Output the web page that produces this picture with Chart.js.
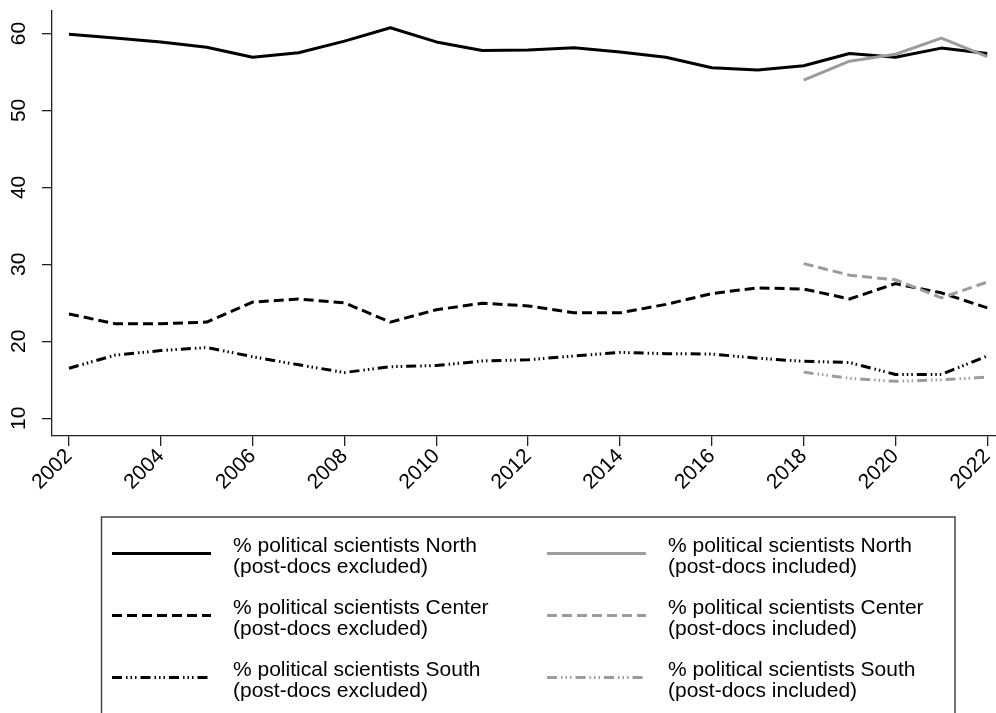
<!DOCTYPE html>
<html>
<head>
<meta charset="utf-8">
<script src="https://cdn.jsdelivr.net/npm/chart.js@4/dist/chart.umd.min.js"></script>
<style>
  html, body { margin: 0; padding: 0; background: #fff; }
  canvas { display: block; }
</style>
</head>
<body>
<canvas id="chart" width="996" height="713"></canvas>
<script>
// Years covered by the full series, and by the series that include post-docs
const years = [2002, 2003, 2004, 2005, 2006, 2007, 2008, 2009, 2010, 2011, 2012,
               2013, 2014, 2015, 2016, 2017, 2018, 2019, 2020, 2021, 2022];
const yearsIncl = [2018, 2019, 2020, 2021, 2022];

// Share of political scientists by area (post-docs excluded)
const northExcl  = [59.9, 59.4, 58.9, 58.2, 56.9, 57.5, 59.0, 60.75, 58.9, 57.8, 57.85,
                    58.15, 57.6, 56.9, 55.55, 55.25, 55.8, 57.4, 56.9, 58.1, 57.4];
const centerExcl = [23.55, 22.3, 22.3, 22.5, 25.1, 25.5, 25.0, 22.5, 24.1, 24.95, 24.6,
                    23.7, 23.7, 24.8, 26.2, 26.95, 26.8, 25.5, 27.5, 26.3, 24.35];
const southExcl  = [16.5, 18.2, 18.8, 19.2, 18.0, 16.95, 15.95, 16.7, 16.85, 17.45, 17.6,
                    18.1, 18.55, 18.4, 18.35, 17.8, 17.4, 17.25, 15.7, 15.7, 18.1];

// Share of political scientists by area (post-docs included)
const northIncl  = [53.95, 56.4, 57.3, 59.4, 57.0];
const centerIncl = [30.1, 28.6, 28.0, 25.65, 27.7];
const southIncl  = [16.0, 15.2, 14.8, 15.0, 15.35];

// Axis ticks
const xTicks = [2002, 2004, 2006, 2008, 2010, 2012, 2014, 2016, 2018, 2020, 2022];
const yTicks = [10, 20, 30, 40, 50, 60];

const FONT = '"Liberation Sans", Arial, Helvetica, sans-serif';
const BLACK = '#000000';
const GREY = '#9c9c9c';
const DASH = [10, 5];
const DASH_DOT = [10, 4, 1.5, 3, 1.5, 3, 1.5, 4];

const pts = (xs, ys) => xs.map((x, i) => ({ x: x, y: ys[i] }));

function series(label, xs, ys, color, dash, order) {
  return {
    label: label,
    data: pts(xs, ys),
    borderColor: color,
    backgroundColor: color,
    borderWidth: 3,
    borderDash: dash,
    borderJoinStyle: 'round',
    pointRadius: 0,
    pointHoverRadius: 0,
    fill: false,
    tension: 0,
    order: order
  };
}

const datasets = [
  series('% political scientists North\n(post-docs excluded)',  years, northExcl,  BLACK, [], 1),
  series('% political scientists Center\n(post-docs excluded)', years, centerExcl, BLACK, DASH, 1),
  series('% political scientists South\n(post-docs excluded)',  years, southExcl,  BLACK, DASH_DOT, 1),
  series('% political scientists North\n(post-docs included)',  yearsIncl, northIncl,  GREY, [], 0),
  series('% political scientists Center\n(post-docs included)', yearsIncl, centerIncl, GREY, DASH, 0),
  series('% political scientists South\n(post-docs included)',  yearsIncl, southIncl,  GREY, DASH_DOT, 0)
];

// Boxed two-column legend below the plot
const boxedLegend = {
  id: 'boxedLegend',
  afterDraw(chart) {
    const ctx = chart.ctx;
    ctx.save();
    ctx.strokeStyle = '#444444';
    ctx.lineWidth = 1.5;
    ctx.setLineDash([]);
    ctx.strokeRect(101.5, 517, 853.5, 230);

    chart.data.datasets.forEach((ds, i) => {
      const col = Math.floor(i / 3);
      const row = i % 3;
      const sx = col ? 547 : 112;
      const sy = 553.5 + row * 62;
      ctx.beginPath();
      ctx.setLineDash(ds.borderDash || []);
      ctx.lineCap = 'butt';
      ctx.strokeStyle = ds.borderColor;
      ctx.lineWidth = 3;
      ctx.moveTo(sx, sy);
      ctx.lineTo(sx + 99, sy);
      ctx.stroke();

      ctx.setLineDash([]);
      ctx.fillStyle = '#000';
      ctx.font = '21px ' + FONT;
      ctx.textAlign = 'left';
      ctx.textBaseline = 'alphabetic';
      const tx = col ? 668 : 233;
      ds.label.split('\n').forEach((line, j) => {
        ctx.fillText(line, tx, sy - 2 + j * 21);
      });
    });
    ctx.restore();
  }
};

new Chart(document.getElementById('chart'), {
  type: 'line',
  data: { datasets: datasets },
  plugins: [boxedLegend],
  options: {
    responsive: false,
    animation: false,
    devicePixelRatio: 1,
    layout: { padding: { top: 11, left: 0, right: 0, bottom: 0 } },
    plugins: {
      legend: { display: false },
      tooltip: { enabled: false }
    },
    scales: {
      x: {
        type: 'linear',
        min: 2001.63,
        max: 2022.19,
        afterBuildTicks: s => { s.ticks = xTicks.map(v => ({ value: v })); },
        afterFit: s => {
          s.height = 277;
          s.paddingLeft = 0; s.paddingRight = 0;
        },
        grid: { drawOnChartArea: false, tickLength: 10, color: '#222', lineWidth: 1.3 },
        border: { display: true, color: '#222', width: 1.3 },
        ticks: {
          minRotation: 45,
          maxRotation: 45,
          padding: -2,
          color: '#000',
          font: { family: FONT, size: 21 },
          callback: v => String(v)
        }
      },
      y: {
        type: 'linear',
        min: 7.70,
        max: 62.92,
        afterBuildTicks: s => { s.ticks = yTicks.map(v => ({ value: v })); },
        afterFit: s => {
          s.width = 52;
          s.paddingTop = 0; s.paddingBottom = 0;
        },
        grid: { drawOnChartArea: false, tickLength: 10, color: '#222', lineWidth: 1.3 },
        border: { display: true, color: '#222', width: 1.3 },
        ticks: {
          minRotation: 90,
          maxRotation: 90,
          crossAlign: 'center',
          padding: 11,
          color: '#000',
          font: { family: FONT, size: 21 },
          callback: v => String(v)
        }
      }
    }
  }
});
</script>
</body>
</html>
